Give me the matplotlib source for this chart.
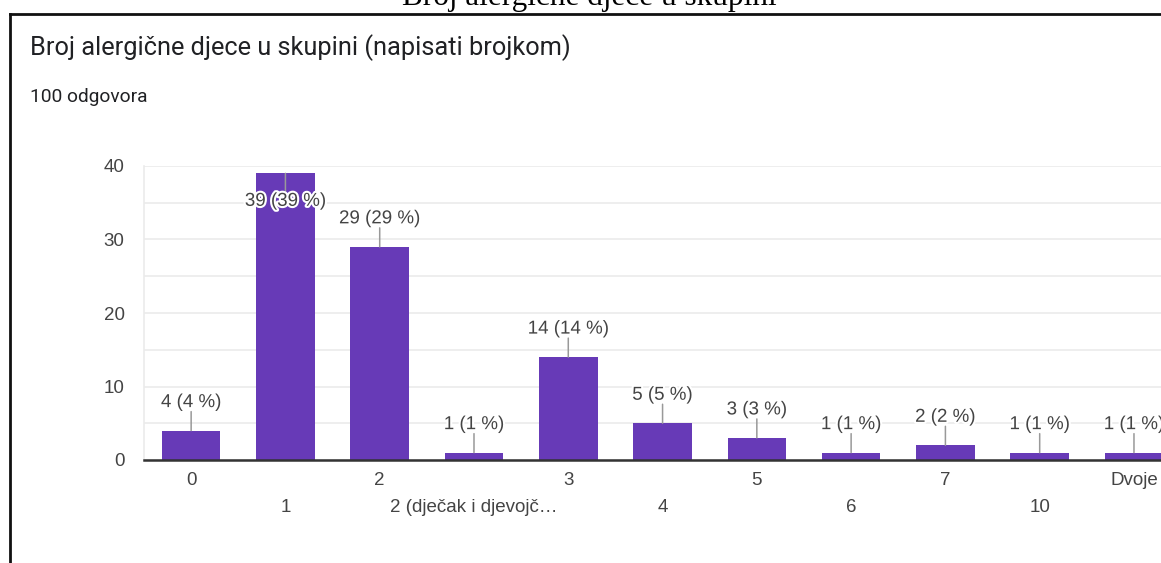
import matplotlib
matplotlib.use("Agg")
import matplotlib.pyplot as plt
import matplotlib.patheffects as pe
from matplotlib.lines import Line2D

# podaci
categories = ["0", "1", "2", "2 (dječak i djevojč…", "3", "4", "5", "6", "7", "10", "Dvoje"]
counts = [4, 39, 29, 1, 14, 5, 3, 1, 2, 1, 1]
total = 100
y_ticks = [0, 10, 20, 30, 40]

purple = "#673ab7"
text_col = "#444444"

W, H = 1161, 563
fig = plt.figure(figsize=(W / 100, H / 100), dpi=100)

# naslov iznad okvira (odrezan)
fig.text(589 / W, 1 - 5.5 / H, "Broj alergične djece u skupini", family="Liberation Serif",
         fontsize=22.5, ha="center", va="baseline", color="black")

# okvir kartice
fig.add_artist(Line2D([10 / W, 1], [1 - 14 / H, 1 - 14 / H], color="#111111", lw=2.0,
                      transform=fig.transFigure))
fig.add_artist(Line2D([10 / W, 10 / W], [0, 1 - 14 / H], color="#111111", lw=2.0,
                      transform=fig.transFigure))

fig.text(30 / W, 1 - 48 / H, "Broj alergične djece u skupini (napisati brojkom)",
         family="Roboto", fontsize=18.3, color="#202124", va="center")
fig.text(30 / W, 1 - 97 / H, f"{total} odgovora", family="Roboto", fontsize=13.8,
         color="#202124", va="center")

# os: y=0 na 460 px, y=40 na 166 px
ax = fig.add_axes([144 / W, (H - 460) / H, (W - 144) / W, (460 - 166) / H])
x = list(range(len(categories)))
ax.bar(x, counts, width=0.62, color=purple, zorder=3)

ax.set_xlim(-0.5, (W - 192) / 94.2)
ax.set_ylim(0, 40)
ax.set_yticks(y_ticks)
ax.set_yticks([5, 15, 25, 35], minor=True)
ax.set_yticklabels([str(v) for v in y_ticks], family="Liberation Sans", fontsize=13.5,
                   color=text_col)
ax.tick_params(axis="y", length=0, pad=14)
ax.tick_params(axis="y", which="minor", length=0)
ax.grid(axis="y", which="both", color="#ebebeb", lw=1.2, zorder=0)
for s in ["top", "right"]:
    ax.spines[s].set_visible(False)
ax.spines["left"].set_color("#ebebeb")
ax.spines["left"].set_linewidth(1.2)
ax.spines["bottom"].set_color("#333333")
ax.spines["bottom"].set_linewidth(1.8)
ax.spines["bottom"].set_zorder(4)

# x oznake u dva reda
ax.set_xticks(x)
ax.set_xticklabels([])
ax.tick_params(axis="x", length=0)
for i, lab in enumerate(categories):
    off = 21 if i % 2 == 0 else 48
    ax.annotate(lab, (i, 0), xytext=(0, -off / 1.389), textcoords="offset points",
                ha="center", va="center", family="Liberation Sans", fontsize=13.5,
                color=text_col, annotation_clip=False)

# oznake vrijednosti s linijom
halo = [pe.withStroke(linewidth=3, foreground="white")]
for i, v in enumerate(counts):
    lab = f"{v} ({v * 100 // total} %)"
    sign = -1 if v > 35 else 1
    ax.annotate("", (i, v), xytext=(0, sign * 19 / 1.389), textcoords="offset points",
                arrowprops=dict(arrowstyle="-", color="#999999", lw=1.1,
                                shrinkA=0, shrinkB=0), zorder=5, annotation_clip=False)
    ax.annotate(lab, (i, v), xytext=(0, sign * 28 / 1.389), textcoords="offset points",
                ha="center", va="center", family="Liberation Sans", fontsize=13.5,
                color=text_col, path_effects=halo, zorder=6, annotation_clip=False)

fig.savefig("out.png", dpi=100)
